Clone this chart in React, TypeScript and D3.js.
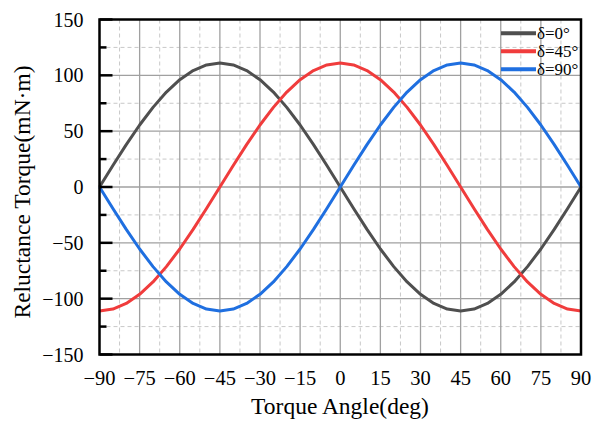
import React, { useEffect, useRef } from "react";
import * as d3 from "d3";

const angles = [-90, -85, -80, -75, -70, -65, -60, -55, -50, -45, -40, -35, -30, -25, -20, -15, -10, -5, 0, 5, 10, 15, 20, 25, 30, 35, 40, 45, 50, 55, 60, 65, 70, 75, 80, 85, 90];
const delta0 = [0, 19.3, 38.0, 55.5, 71.3, 85.0, 96.1, 104.3, 109.3, 111, 109.3, 104.3, 96.1, 85.0, 71.3, 55.5, 38.0, 19.3, 0, -19.3, -38.0, -55.5, -71.3, -85.0, -96.1, -104.3, -109.3, -111, -109.3, -104.3, -96.1, -85.0, -71.3, -55.5, -38.0, -19.3, 0];
const delta45 = [-111, -109.3, -104.3, -96.1, -85.0, -71.3, -55.5, -38.0, -19.3, 0, 19.3, 38.0, 55.5, 71.3, 85.0, 96.1, 104.3, 109.3, 111, 109.3, 104.3, 96.1, 85.0, 71.3, 55.5, 38.0, 19.3, 0, -19.3, -38.0, -55.5, -71.3, -85.0, -96.1, -104.3, -109.3, -111];
const delta90 = [0, -19.3, -38.0, -55.5, -71.3, -85.0, -96.1, -104.3, -109.3, -111, -109.3, -104.3, -96.1, -85.0, -71.3, -55.5, -38.0, -19.3, 0, 19.3, 38.0, 55.5, 71.3, 85.0, 96.1, 104.3, 109.3, 111, 109.3, 104.3, 96.1, 85.0, 71.3, 55.5, 38.0, 19.3, 0];
const seriesNames = ["δ=0°", "δ=45°", "δ=90°"];
const seriesColors = ["#4f4f4f", "#f03c3c", "#1f6fe0"];
const xTicks = [-90, -75, -60, -45, -30, -15, 0, 15, 30, 45, 60, 75, 90];
const yTicks = [-150, -100, -50, 0, 50, 100, 150];
const xMinor = [-82.5, -67.5, -52.5, -37.5, -22.5, -7.5, 7.5, 22.5, 37.5, 52.5, 67.5, 82.5];
const yMinor = [-125, -75, -25, 25, 75, 125];

export default function App() {
  const ref = useRef<SVGSVGElement>(null);
  useEffect(() => {
    const svg = d3.select(ref.current);
    svg.selectAll("*").remove();
    const L = 99.5, R = 581, T = 19.5, B = 354.5;
    const x = d3.scaleLinear().domain([-90, 90]).range([L, R]);
    const y = d3.scaleLinear().domain([-150, 150]).range([B, T]);
    const font = "'Liberation Serif', 'Times New Roman', serif";
    const g = svg.append("g");

    // minor grid (dashed)
    g.selectAll(".xm").data(xMinor).enter().append("line")
      .attr("x1", d => x(d)).attr("x2", d => x(d)).attr("y1", T).attr("y2", B)
      .attr("stroke", "#c8c8c8").attr("stroke-width", 1).attr("stroke-dasharray", "4,3");
    g.selectAll(".ym").data(yMinor).enter().append("line")
      .attr("y1", d => y(d)).attr("y2", d => y(d)).attr("x1", L).attr("x2", R)
      .attr("stroke", "#c8c8c8").attr("stroke-width", 1).attr("stroke-dasharray", "4,3");
    // major grid
    g.selectAll(".xg").data(xTicks.slice(1, -1)).enter().append("line")
      .attr("x1", d => x(d)).attr("x2", d => x(d)).attr("y1", T).attr("y2", B)
      .attr("stroke", "#a0a0a0").attr("stroke-width", 1.3);
    g.selectAll(".yg").data(yTicks.slice(1, -1)).enter().append("line")
      .attr("y1", d => y(d)).attr("y2", d => y(d)).attr("x1", L).attr("x2", R)
      .attr("stroke", "#a0a0a0").attr("stroke-width", 1.3);

    // lines
    const allSeries = [delta0, delta45, delta90];
    const line = d3.line<number>().x((_, i) => x(angles[i])).y(d => y(d));
    allSeries.forEach((s, k) => {
      g.append("path").datum(s).attr("d", line).attr("fill", "none")
        .attr("stroke", seriesColors[k]).attr("stroke-width", 3).attr("stroke-linejoin", "round");
    });

    // left ticks (inward)
    g.selectAll(".yt").data(yTicks).enter().append("line")
      .attr("x1", L).attr("x2", L + 13).attr("y1", d => y(d)).attr("y2", d => y(d))
      .attr("stroke", "#000").attr("stroke-width", 2.5);
    g.selectAll(".ytm").data(yMinor).enter().append("line")
      .attr("x1", L).attr("x2", L + 7).attr("y1", d => y(d)).attr("y2", d => y(d))
      .attr("stroke", "#000").attr("stroke-width", 2.5);

    // frame
    g.append("rect").attr("x", L).attr("y", T).attr("width", R - L).attr("height", B - T)
      .attr("fill", "none").attr("stroke", "#000").attr("stroke-width", 2.5);

    // tick labels
    const fmt = (d: number) => (d < 0 ? "\u2212" + Math.abs(d) : String(d));
    g.selectAll(".yl").data(yTicks).enter().append("text")
      .attr("x", L - 16).attr("y", d => y(d)).attr("dy", "0.35em")
      .attr("text-anchor", "end").attr("font-family", font).attr("font-size", 20)
      .text(d => fmt(d));
    g.selectAll(".xl").data(xTicks).enter().append("text")
      .attr("x", d => x(d)).attr("y", B + 30.5)
      .attr("text-anchor", "middle").attr("font-family", font).attr("font-size", 20.5)
      .text(d => fmt(d));

    // axis titles
    g.append("text").attr("x", 340).attr("y", 413.5).attr("text-anchor", "middle")
      .attr("font-family", font).attr("font-size", 23.5).text("Torque Angle(deg)");
    g.append("text").attr("transform", `translate(30,192) rotate(-90)`)
      .attr("text-anchor", "middle").attr("font-family", font).attr("font-size", 23.5)
      .text("Reluctance Torque(mN·m)");

    // legend
    seriesNames.forEach((n, k) => {
      const yy = 33.3 + k * 18;
      g.append("line").attr("x1", 501).attr("x2", 536).attr("y1", yy).attr("y2", yy)
        .attr("stroke", seriesColors[k]).attr("stroke-width", 4);
      g.append("text").attr("x", 537).attr("y", yy).attr("dy", "0.35em")
        .attr("font-family", font).attr("font-size", 17).text(n);
    });
  }, []);
  return (
    <svg ref={ref} width={592} height={421}
      style={{ position: "absolute", left: 0, top: 0, background: "#fff" }} />
  );
}
